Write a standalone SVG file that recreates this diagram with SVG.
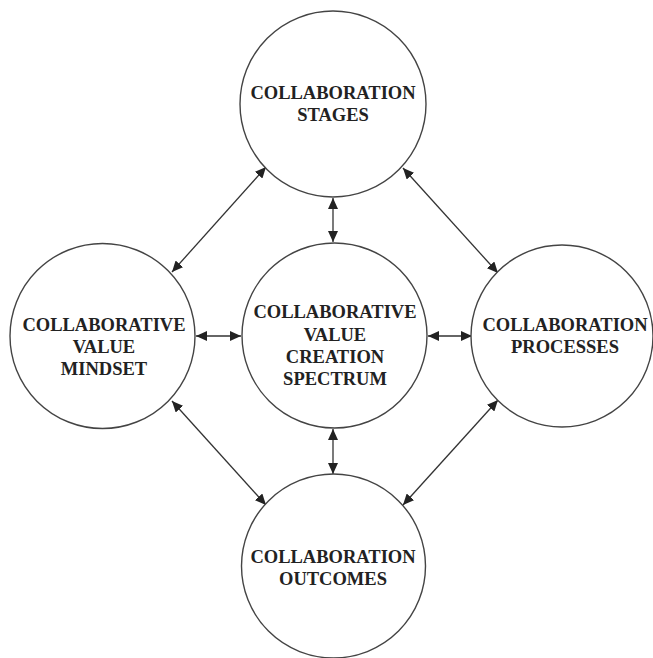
<svg xmlns="http://www.w3.org/2000/svg" width="653" height="658" viewBox="0 0 653 658">
<style>
.node circle{fill:#fff;stroke:#444;stroke-width:1.4}
.node text{font-family:"Liberation Serif","Times New Roman",serif;font-weight:bold;font-size:18.5px;fill:#222;text-anchor:middle}
#connectors line{stroke:#333;stroke-width:1.3;marker-start:url(#ah);marker-end:url(#ah)}
</style>
<defs>
<marker id="ah" markerUnits="userSpaceOnUse" markerWidth="12" markerHeight="10" refX="11" refY="5" orient="auto-start-reverse">
<path d="M0,0 L11,5 L0,10 z" fill="#222"/>
</marker>
</defs>
<rect width="653" height="658" fill="#fff"/>
<g id="connectors">
<line x1="333" y1="198" x2="333" y2="242"/>
<line x1="266" y1="167" x2="172" y2="272"/>
<line x1="403" y1="168" x2="498" y2="273"/>
<line x1="172" y1="401" x2="266" y2="505"/>
<line x1="498" y1="400" x2="403" y2="505"/>
<line x1="196" y1="336" x2="241" y2="336"/>
<line x1="428" y1="336" x2="472" y2="336"/>
<line x1="333" y1="429" x2="333" y2="474"/>
</g>
<g id="stages" class="node">
<circle cx="333" cy="104" r="93"/>
<text x="333" y="99">COLLABORATION</text>
<text x="333" y="121">STAGES</text>
</g>
<g id="mindset" class="node">
<circle cx="102.5" cy="336" r="92.5"/>
<text x="104" y="331">COLLABORATIVE</text>
<text x="104" y="353">VALUE</text>
<text x="104" y="375">MINDSET</text>
</g>
<g id="spectrum" class="node">
<circle cx="334.5" cy="335.5" r="92.5"/>
<text x="335" y="318">COLLABORATIVE</text>
<text x="335" y="341">VALUE</text>
<text x="335" y="363">CREATION</text>
<text x="335" y="385">SPECTRUM</text>
</g>
<g id="processes" class="node">
<circle cx="562" cy="336" r="91"/>
<text x="565" y="331">COLLABORATION</text>
<text x="565" y="353">PROCESSES</text>
</g>
<g id="outcomes" class="node">
<circle cx="333.5" cy="566" r="92"/>
<text x="333" y="563">COLLABORATION</text>
<text x="333" y="585">OUTCOMES</text>
</g>
</svg>
